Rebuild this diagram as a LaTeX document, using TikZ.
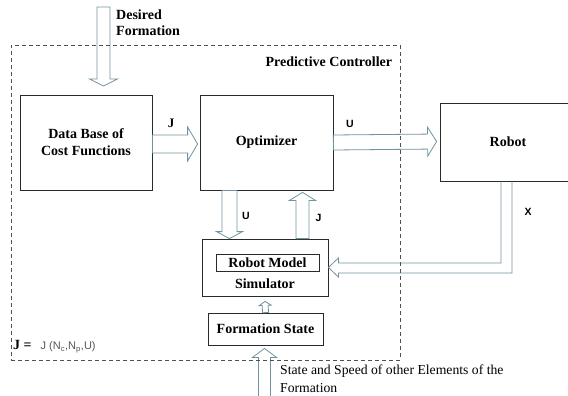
\documentclass[tikz,border=0pt]{standalone}
\usepackage{fontspec}
\setmainfont{Liberation Serif}[BoldFont={Liberation Serif Bold},ItalicFont={Liberation Serif Italic}]
\newfontfamily\lsans{Liberation Sans}[BoldFont={Liberation Sans Bold}]
\usetikzlibrary{calc}
\definecolor{arrowc}{HTML}{7093A0}
\definecolor{boxc}{HTML}{2A2A2A}
\definecolor{dashc}{HTML}{505050}
\definecolor{eqc}{HTML}{555555}
\tikzset{
  blk/.style={draw=boxc, line width=0.8pt, inner sep=0pt, align=center,
    font=\rmfamily\bfseries\fontsize{14}{17}\selectfont},
  btext/.style={inner sep=0pt, font=\rmfamily\bfseries\fontsize{14}{17}\selectfont},
  rtext/.style={inner sep=0pt, font=\rmfamily\fontsize{13.7}{16}\selectfont},
  barrow/.style={draw=arrowc, line width=0.8pt, line join=miter},
  lbls/.style={inner sep=0pt, font=\lsans\bfseries\fontsize{10.5}{12}\selectfont},
  pcbox/.style={draw=dashc, line width=0.7pt, dash pattern=on 4pt off 3pt, inner sep=0pt}
}
\newcommand\blockarrow[5]{%
  \coordinate (bC) at ($(#2)!#5!(#1)$);
  \draw[barrow] ($(#1)!#3!90:(#2)$) -- ($(bC)!#3!90:(#2)$) -- ($(bC)!#4!90:(#2)$)
    -- (#2) -- ($(bC)!#4!-90:(#2)$) -- ($(bC)!#3!-90:(#2)$) -- ($(#1)!#3!-90:(#2)$) -- cycle;}
\begin{document}
\begin{tikzpicture}[x=1pt,y=-1pt]
\useasboundingbox (0,0) rectangle (568,396);
\clip (0,0) rectangle (568,396);
% blocks
\node[blk, minimum width=132pt, minimum height=95pt] (db) at (86,142.5) {Data Base of\\Cost Functions};
\node[blk, minimum width=133pt, minimum height=95pt] (opt) at (266.5,142.5) {Optimizer};
\node[blk, minimum width=136pt, minimum height=78pt] (robot) at (508,142) {Robot};
\node[blk, minimum width=126pt, minimum height=57pt] (sim) at (265,267.5) {};
\node[blk, minimum width=103pt, minimum height=17pt] (rm) at (267.5,262.5) {Robot Model};
\node[btext] (simt) at (265,284) {Simulator};
\node[blk, minimum width=115pt, minimum height=32pt] (fs) at (265.5,329) {Formation State};
% arrows
\coordinate (dfA) at (103.5,7);
\coordinate (dfB) at (103.5,86);
\blockarrow{dfA}{dfB}{6.5pt}{14pt}{7pt}
\coordinate (jA) at ([yshift=-1.5pt]db.east);
\coordinate (jB) at ([xshift=-2pt,yshift=-1.5pt]opt.west);
\blockarrow{jA}{jB}{9pt}{17pt}{10pt}
\coordinate (uA) at (opt.east);
\coordinate (uB) at ([xshift=-3pt,yshift=0.5pt]robot.west);
\blockarrow{uA}{uB}{7.5pt}{14.5pt}{9pt}
\coordinate (udA) at ([xshift=-37pt]opt.south);
\coordinate (udB) at ([xshift=-35.5pt]sim.north);
\blockarrow{udA}{udB}{7.5pt}{13pt}{7pt}
\coordinate (juA) at ([xshift=37.5pt]sim.north);
\coordinate (juB) at ([xshift=36pt,yshift=-2pt]opt.south);
\blockarrow{juA}{juB}{6.5pt}{13pt}{8pt}
\coordinate (saA) at (fs.north);
\coordinate (saB) at ([yshift=-5pt]sim.south);
\blockarrow{saA}{saB}{3pt}{6pt}{4pt}
\coordinate (ssA) at (264.5,402);
\coordinate (ssB) at ([xshift=-1pt,yshift=-3pt]fs.south);
\blockarrow{ssA}{ssB}{6pt}{12pt}{9pt}
\draw[barrow] let \p1=(robot.south), \p2=(sim.east) in
  (\x1-7pt,\y1) -- (\x1-7pt,\y2+4.5pt) -- (\x2+10pt,\y2+4.5pt) -- (\x2+10pt,\y2+9.5pt)
  -- (\p2) -- (\x2+10pt,\y2-9.5pt) -- (\x2+10pt,\y2-5.5pt) -- (\x1+4pt,\y2-5.5pt) -- (\x1+4pt,\y1);
% dashed controller frame
\node[pcbox, minimum width=389pt, minimum height=315pt] (pc) at (205.5,202.5) {};
\node[btext, anchor=east] (pct) at ($(pc.north east)+(-8,17)$) {Predictive Controller};
% labels
\node[btext, anchor=base west] (df1) at (116,20) {Desired};
\node[btext, anchor=base west] (df2) at (116,36) {Formation};
\node[inner sep=0pt, font=\rmfamily\bfseries\fontsize{13}{15}\selectfont] (lJ1) at (171,123) {J};
\node[lbls] (lU1) at (350,124) {U};
\node[lbls] (lU2) at (246,216) {U};
\node[lbls] (lJ2) at (318.5,217.5) {J};
\node[lbls] (lX) at (528,212) {X};
\node[inner sep=0pt, anchor=west] (jeq) at (13,347) {\rmfamily\bfseries\fontsize{14}{16}\selectfont J =\hspace{9pt}{\lsans\mdseries\fontsize{11}{13}\selectfont\color{eqc}J (N\textsubscript{c},N\textsubscript{p},U)}};
\node[rtext, anchor=base west] (st1) at (280,374) {State and Speed of other Elements of the};
\node[rtext, anchor=base west] (st2) at (280,392) {Formation};
\end{tikzpicture}
\end{document}
